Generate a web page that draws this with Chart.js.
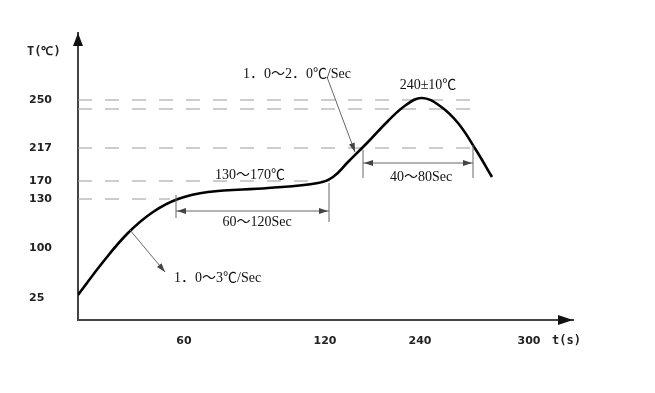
<!DOCTYPE html>
<html>
<head>
<meta charset="utf-8">
<script src="https://cdn.jsdelivr.net/npm/chart.js@4/dist/chart.umd.min.js"></script>
<style>
  html, body { margin: 0; padding: 0; background: #fff; }
  #wrap { width: 655px; height: 393px; }
</style>
</head>
<body>
<div id="wrap"><canvas id="reflow"></canvas></div>
<script>
// schematic diagram: positions along the axes, labels printed at them
const xTickPos = [106, 247, 342, 451];
const xTickLabels = ['60', '120', '240', '300'];
const yTickPos = [22, 72, 121, 139, 172, 220];
const yTickLabels = ['25', '100', '130', '170', '217', '250'];

// reflow profile curve
const profileX = [0, 25, 50, 75, 100, 130, 190, 240, 255, 270, 290, 310, 328, 344, 362, 380, 398, 414];
const profileY = [25, 58, 87, 108, 121, 128, 132, 137, 143, 158, 178, 199, 215, 222, 214, 197, 170, 143];

// dashed guide levels and where they stop
const guideLevels = [220, 211, 172, 139, 121];
const guideEnds = [395, 395, 395, 252, 92];

// annotation texts [text, x, y, align]
const notes = [
  ['1．0～3℃/Sec', 96, 42, 'left'],
  ['60～120Sec', 179, 98, 'center'],
  ['130～170℃', 172, 145, 'center'],
  ['1．0～2．0℃/Sec', 219, 246, 'center'],
  ['240±10℃', 350, 235, 'center'],
  ['40～80Sec', 343, 143, 'center']
];
// dimension lines: [x1, x2, y, ext1 from-to, ext2 from-to]
const dims = [
  [98, 251, 109, [102, 125], [98, 137]],
  [285, 395, 157, [142, 170], [142, 175]]
];
// leader arrows [x1, y1, x2, y2]
const leaders = [
  [52, 90, 87, 48],
  [249, 243, 277, 168]
];

const datasets = [{
  data: profileX.map((x, i) => ({ x: x, y: profileY[i] })),
  borderColor: '#000',
  borderWidth: 2.6,
  pointRadius: 0,
  tension: 0.4,
  fill: false
}];
guideLevels.forEach((lv, i) => {
  datasets.push({
    data: [{ x: 0, y: lv }, { x: guideEnds[i], y: lv }],
    borderColor: '#9a9a9a',
    borderWidth: 1,
    borderDash: [14, 13],
    pointRadius: 0,
    fill: false
  });
});

function arrowHead(ctx, x, y, ang, len, half) {
  ctx.beginPath();
  ctx.moveTo(x, y);
  ctx.lineTo(x - len * Math.cos(ang) + half * Math.sin(ang), y - len * Math.sin(ang) - half * Math.cos(ang));
  ctx.lineTo(x - len * Math.cos(ang) - half * Math.sin(ang), y - len * Math.sin(ang) + half * Math.cos(ang));
  ctx.closePath();
  ctx.fill();
}

const extras = {
  id: 'extras',
  afterDraw(chart) {
    const ctx = chart.ctx;
    const xs = chart.scales.x, ys = chart.scales.y;
    const a = chart.chartArea;
    ctx.save();
    // axis arrows
    ctx.fillStyle = '#111';
    arrowHead(ctx, a.left, a.top, -Math.PI / 2, 13, 5);
    arrowHead(ctx, a.right, a.bottom, 0, 15, 5);
    // axis names
    ctx.font = 'bold 12px "DejaVu Sans Mono"';
    ctx.fillStyle = '#222';
    ctx.textBaseline = 'middle';
    ctx.textAlign = 'left';
    ctx.fillText('T(℃)', 27, 52);
    ctx.fillText('t(s)', 552, 341);

    // dimension lines
    ctx.strokeStyle = '#666';
    ctx.fillStyle = '#444';
    ctx.lineWidth = 1;
    dims.forEach(d => {
      const x1 = xs.getPixelForValue(d[0]), x2 = xs.getPixelForValue(d[1]);
      const y = ys.getPixelForValue(d[2]);
      ctx.beginPath();
      ctx.moveTo(x1, y); ctx.lineTo(x2, y);
      ctx.moveTo(x1, ys.getPixelForValue(d[3][0])); ctx.lineTo(x1, ys.getPixelForValue(d[3][1]));
      ctx.moveTo(x2, ys.getPixelForValue(d[4][0])); ctx.lineTo(x2, ys.getPixelForValue(d[4][1]));
      ctx.stroke();
      arrowHead(ctx, x1 + 1, y, Math.PI, 9, 3);
      arrowHead(ctx, x2 - 1, y, 0, 9, 3);
    });
    leaders.forEach(l => {
      const x1 = xs.getPixelForValue(l[0]), y1 = ys.getPixelForValue(l[1]);
      const x2 = xs.getPixelForValue(l[2]), y2 = ys.getPixelForValue(l[3]);
      ctx.beginPath();
      ctx.moveTo(x1, y1); ctx.lineTo(x2, y2);
      ctx.stroke();
      arrowHead(ctx, x2, y2, Math.atan2(y2 - y1, x2 - x1), 9, 3);
    });

    // texts
    ctx.font = '14px "Liberation Serif", "Noto Sans CJK SC"';
    ctx.fillStyle = '#111';
    notes.forEach(n => {
      ctx.textAlign = n[3];
      ctx.fillText(n[0], xs.getPixelForValue(n[1]), ys.getPixelForValue(n[2]));
    });
    ctx.restore();
  }
};

new Chart(document.getElementById('reflow'), {
  type: 'line',
  data: { datasets: datasets },
  options: {
    responsive: true,
    maintainAspectRatio: false,
    animation: false,
    layout: { padding: { left: 29, top: 33, right: 82, bottom: 0 } },
    plugins: { legend: { display: false }, tooltip: { enabled: false } },
    scales: {
      x: {
        type: 'linear',
        min: 0,
        max: 495,
        grid: { display: false, drawTicks: false },
        border: { color: '#444', width: 2 },
        afterBuildTicks: s => { s.ticks = xTickPos.map(v => ({ value: v })); },
        afterFit: s => { s.height = 73; },
        ticks: {
          autoSkip: false,
          maxRotation: 0,
          padding: 15,
          color: '#222',
          font: { family: 'DejaVu Sans', weight: 'bold', size: 11 },
          callback: (v) => xTickLabels[xTickPos.indexOf(v)]
        }
      },
      y: {
        type: 'linear',
        min: 0,
        max: 287,
        grid: { display: false, drawTicks: false },
        border: { color: '#444', width: 2 },
        afterBuildTicks: s => { s.ticks = yTickPos.map(v => ({ value: v })); },
        afterFit: s => { s.width = 49; },
        ticks: {
          autoSkip: false,
          crossAlign: 'far',
          padding: 8,
          color: '#222',
          font: { family: 'DejaVu Sans', weight: 'bold', size: 11 },
          callback: (v) => yTickLabels[yTickPos.indexOf(v)]
        }
      }
    }
  },
  plugins: [extras]
});
</script>
</body>
</html>
